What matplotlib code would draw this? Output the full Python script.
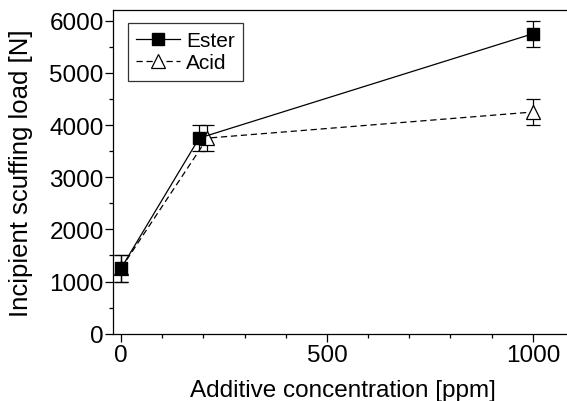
import matplotlib
matplotlib.use("Agg")
import matplotlib.pyplot as plt
from matplotlib.ticker import MultipleLocator
from matplotlib.lines import Line2D

plt.rcParams['font.family'] = ['Liberation Sans', 'DejaVu Sans']

ester_x = [0, 190, 1000]
ester_y = [1250, 3750, 5750]
ester_err = [250, 250, 250]
acid_x = [0, 210, 1000]
acid_y = [1250, 3750, 4250]
acid_err = [250, 250, 250]

W, H = 567, 402
fig = plt.figure(figsize=(W / 100, H / 100), dpi=100)
ax = fig.add_axes([112.7 / W, (H - 334.7) / H, (574 - 112.7) / W, (334.7 - 11.3) / H])

ax.errorbar(acid_x, acid_y, yerr=acid_err, color='black', lw=0.9, ls=(0, (5, 3)),
            marker='^', ms=10, mfc='white', mec='black', mew=0.9,
            capsize=5, elinewidth=0.9, capthick=0.9, zorder=2)
ax.errorbar(ester_x, ester_y, yerr=ester_err, color='black', lw=0.9, ls='-',
            marker='s', ms=8.5, mfc='black', mec='black',
            capsize=5, elinewidth=0.9, capthick=0.9, zorder=3)

ax.set_xlim(-20, 1100)
ax.set_ylim(0, 6200)
ax.xaxis.set_major_locator(MultipleLocator(500))
ax.xaxis.set_minor_locator(MultipleLocator(100))
ax.yaxis.set_major_locator(MultipleLocator(1000))
ax.yaxis.set_minor_locator(MultipleLocator(500))
ax.tick_params(which='major', direction='out', length=5.5, width=0.9, labelsize=17.5)
ax.tick_params(axis='y', which='major', pad=1)
ax.tick_params(axis='x', which='major', pad=2)
ax.tick_params(which='minor', direction='out', length=3, width=0.9)
for s in ax.spines.values():
    s.set_linewidth(0.9)

ax.set_xlabel('Additive concentration [ppm]', fontsize=17.5, labelpad=9)
ax.set_ylabel('Incipient scuffing load [N]', fontsize=18.5, labelpad=12)

handles = [
    Line2D([], [], color='black', lw=0.9, ls='-', marker='s', ms=8.5, mfc='black'),
    Line2D([], [], color='black', lw=0.9, ls=(0, (5, 3)), marker='^', ms=10,
           mfc='white', mec='black', mew=0.9),
]
leg = ax.legend(handles, ['Ester', 'Acid'], loc='upper left', fontsize=15,
                frameon=True, fancybox=False, edgecolor='black',
                bbox_to_anchor=(0.033, 0.961), borderpad=0.4, handlelength=2.1,
                handletextpad=0.3, labelspacing=0.15, borderaxespad=0)
leg.get_frame().set_linewidth(0.9)

fig.savefig('out.png', dpi=100)
